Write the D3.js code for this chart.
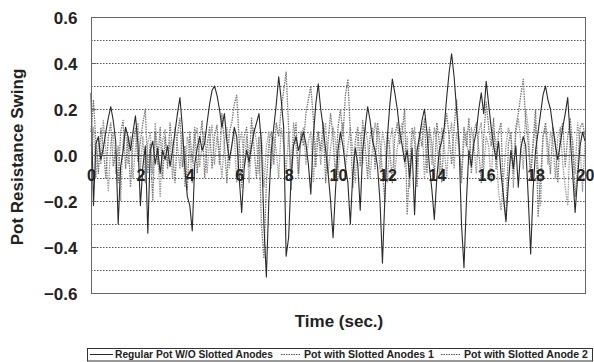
<!DOCTYPE html>
<html>
<head>
<meta charset="utf-8">
<script src="https://cdn.jsdelivr.net/npm/d3@7"></script>
<style>
  body { margin: 0; background: #fff; }
  svg { display: block; font-family: "Liberation Sans", Arial, sans-serif; }
</style>
</head>
<body>
<div id="chart"></div>
<script>
// time axis: 0..20 s, one sample every 0.1 s
const xTicks = [0, 2, 4, 6, 8, 10, 12, 14, 16, 18, 20];
const yTicks = [-0.6, -0.4, -0.2, 0.0, 0.2, 0.4, 0.6];
const gridValues = [-0.5, -0.4, -0.3, -0.2, -0.1, 0.1, 0.2, 0.3, 0.4, 0.5];
const seriesNames = ["Regular Pot W/O Slotted Anodes", "Pot with Slotted Anodes 1", "Pot with Slotted Anode 2"];

const regularPot = [
  0.27, -0.22, 0.05, 0.08, -0.02, 0.03, 0.10, 0.16, 0.21, 0.15,
  0.06, -0.30, -0.05, 0.02, 0.12, 0.08, 0.02, 0.10, 0.17, 0.05,
  -0.22, -0.05, 0.04, -0.34, 0.02, 0.06, -0.04, 0.03, -0.08, 0.02,
  -0.02, 0.04, -0.05, 0.02, 0.10, 0.18, 0.25, 0.12, -0.06, -0.18,
  -0.22, -0.33, -0.04, 0.03, 0.08, 0.02, 0.05, 0.14, 0.22, 0.28,
  0.30, 0.26, 0.20, 0.12, 0.18, 0.06, -0.02, 0.04, 0.12, 0.08,
  -0.10, -0.25, -0.06, 0.02, -0.03, 0.04, 0.10, 0.14, 0.18, 0.05,
  -0.30, -0.53, -0.20, 0.02, 0.12, 0.22, 0.34, 0.24, 0.12, -0.44,
  -0.36, -0.10, 0.04, 0.08, 0.02, 0.06, 0.10, 0.05, -0.04, -0.17,
  0.08, 0.22, 0.31, 0.20, 0.12, 0.02, -0.08, -0.20, -0.36, -0.15,
  0.02, 0.10, 0.04, -0.05, -0.12, -0.30, -0.08, 0.03, -0.04, -0.24,
  0.02, 0.12, 0.21, 0.15, 0.06, 0.02, -0.05, -0.20, -0.47, -0.18,
  0.08, 0.22, 0.33, 0.27, 0.20, 0.10, 0.04, -0.03, 0.02, -0.10,
  0.03, -0.26, 0.02, 0.08, 0.15, 0.20, 0.10, -0.05, -0.15, -0.28,
  -0.10, 0.02, 0.06, 0.12, 0.25, 0.36, 0.44, 0.34, 0.20, 0.05,
  -0.30, -0.49, -0.20, 0.02, -0.05, 0.05, 0.10, 0.20, 0.27, 0.18,
  0.32, 0.22, 0.12, 0.04, -0.02, 0.06, -0.08, -0.18, -0.29, -0.12,
  0.02, -0.06, 0.04, -0.14, 0.03, 0.08, 0.04, -0.18, -0.43, -0.15,
  0.02, 0.10, 0.18, 0.26, 0.30, 0.24, 0.20, 0.12, 0.04, -0.02,
  0.05, 0.12, 0.18, 0.25, 0.08, -0.08, -0.25, -0.10, 0.04, 0.10,
  0.06
];

const slotted1 = [
  0.10, 0.24, 0.05, -0.08, 0.12, 0.03, -0.10, 0.08, 0.14, -0.05,
  0.02, -0.12, 0.10, 0.15, -0.06, 0.08, -0.14, 0.05, 0.12, -0.03,
  0.06, 0.14, 0.20, -0.08, 0.05, -0.20, 0.10, -0.04, 0.12, -0.10,
  0.08, -0.06, 0.14, 0.02, -0.12, 0.09, 0.16, -0.05, 0.04, -0.15,
  0.10, -0.03, 0.12, -0.08, 0.06, 0.15, -0.10, 0.04, 0.12, -0.06,
  0.08, 0.13, -0.04, 0.18, 0.05, -0.12, 0.10, 0.14, 0.22, 0.26,
  0.06, -0.14, 0.08, 0.12, -0.05, 0.16, 0.03, -0.10, 0.08, -0.30,
  -0.45, -0.12, 0.05, 0.10, -0.04, 0.14, 0.08, 0.20, 0.28, 0.36,
  0.12, -0.15, 0.06, 0.14, -0.08, 0.10, 0.04, 0.18, 0.24, 0.30,
  0.16, -0.05, 0.10, 0.02, 0.14, -0.12, 0.06, 0.18, 0.08, -0.10,
  0.12, 0.20, 0.08, 0.26, 0.33, 0.10, -0.14, 0.06, 0.12, -0.05,
  0.15, 0.04, -0.10, 0.08, 0.12, -0.06, 0.14, 0.05, -0.08, -0.20,
  0.10, 0.02, -0.12, 0.08, 0.14, 0.05, 0.10, 0.20, -0.26, -0.05,
  0.12, 0.06, -0.14, 0.10, 0.04, 0.16, -0.08, 0.12, 0.05, -0.10,
  0.14, 0.06, -0.12, 0.10, 0.18, 0.08, -0.04, 0.12, 0.24, 0.06,
  -0.10, 0.12, 0.04, 0.16, -0.08, 0.10, 0.14, 0.02, -0.12, 0.08,
  0.23, 0.12, 0.04, 0.16, -0.06, 0.10, 0.14, -0.20, -0.28, 0.05,
  0.10, -0.08, 0.12, 0.18, 0.26, 0.33, 0.15, 0.05, -0.10, 0.06,
  0.20, -0.27, -0.10, 0.08, 0.14, 0.04, -0.08, 0.12, 0.06, -0.12,
  0.10, 0.14, -0.05, 0.08, 0.16, 0.04, -0.18, -0.06, 0.12, 0.14,
  0.08
];

const slotted2 = [
  0.04, 0.12, -0.10, 0.06, -0.04, 0.15, 0.02, -0.16, 0.05, 0.10,
  -0.08, 0.04, -0.20, 0.06, 0.12, -0.04, 0.08, -0.10, 0.03, 0.14,
  -0.06, 0.08, -0.12, 0.05, 0.10, -0.08, 0.14, 0.02, -0.18, 0.06,
  0.11, -0.04, 0.06, -0.10, 0.12, 0.04, -0.06, 0.10, -0.14, 0.08,
  0.03, -0.12, 0.08, 0.12, -0.05, 0.04, 0.10, -0.08, 0.06, 0.13,
  -0.04, 0.08, 0.02, -0.10, 0.06, 0.12, -0.06, 0.04, 0.10, -0.12,
  0.05, 0.10, -0.05, 0.08, -0.12, 0.03, 0.12, 0.06, -0.08, 0.10,
  -0.14, 0.04, 0.10, -0.06, 0.08, 0.02, -0.10, 0.12, 0.05, -0.08,
  0.10, -0.06, 0.14, 0.04, -0.10, 0.08, 0.12, -0.04, 0.06, 0.10,
  -0.12, 0.05, 0.10, -0.04, 0.08, 0.14, -0.08, 0.03, 0.12, 0.06,
  -0.10, 0.08, 0.14, -0.06, 0.04, 0.12, 0.02, -0.12, 0.08, 0.10,
  -0.04, 0.12, 0.06, -0.10, 0.04, 0.14, 0.08, -0.06, 0.10, 0.04,
  -0.12, 0.06, 0.12, -0.08, 0.03, 0.10, 0.14, -0.05, 0.08, -0.14,
  0.05, 0.12, -0.06, 0.08, 0.14, -0.10, 0.04, 0.10, -0.04, 0.12,
  0.06, -0.08, 0.12, 0.04, -0.10, 0.08, 0.14, -0.06, 0.10, 0.03,
  -0.12, 0.06, 0.10, -0.04, 0.12, 0.05, -0.08, 0.10, 0.14, -0.06,
  0.08, 0.04, -0.12, 0.10, 0.06, -0.16, -0.24, -0.10, 0.04, 0.12,
  0.08, -0.14, 0.10, 0.16, 0.06, -0.06, 0.20, 0.12, -0.08, 0.04,
  0.14, -0.06, -0.22, 0.08, 0.12, -0.04, 0.10, 0.06, -0.10, 0.08,
  0.12, -0.04, -0.14, -0.22, 0.10, 0.06, -0.08, 0.14, 0.04, -0.16,
  0.06
];

const width = 594, height = 362;
const plot = { left: 91, right: 585, top: 17, bottom: 293 };

const svg = d3.select("#chart").append("svg")
    .attr("width", width)
    .attr("height", height);

const x = d3.scaleLinear().domain([0, 20]).range([plot.left, plot.right]);
const y = d3.scaleLinear().domain([-0.6, 0.6]).range([plot.bottom, plot.top]);

// dotted gridlines every 0.1
svg.append("g")
    .selectAll("line")
    .data(gridValues)
    .enter()
    .append("line")
    .attr("x1", plot.left)
    .attr("x2", plot.right)
    .attr("y1", d => Math.round(y(d)) + 0.5)
    .attr("y2", d => Math.round(y(d)) + 0.5)
    .attr("stroke", "#555")
    .attr("stroke-width", 1)
    .attr("stroke-dasharray", "1.5,1.5");

// series
const line = d3.line()
    .x((d, i) => x(i * 0.1))
    .y(d => y(d));

const styles = [
    { data: slotted2, color: "#9a9a9a", dash: "1.5,1", w: 1.3 },
    { data: slotted1, color: "#777", dash: "1.5,1", w: 1.3 },
    { data: regularPot, color: "#2a2a2a", dash: null, w: 1.1 }
];

styles.forEach(s => {
    svg.append("path")
        .datum(s.data)
        .attr("fill", "none")
        .attr("stroke", s.color)
        .attr("stroke-width", s.w)
        .attr("stroke-dasharray", s.dash)
        .attr("stroke-linejoin", "round")
        .attr("d", line);
});

// zero line
svg.append("line")
    .attr("x1", plot.left)
    .attr("x2", plot.right)
    .attr("y1", Math.round(y(0)) + 0.5)
    .attr("y2", Math.round(y(0)) + 0.5)
    .attr("stroke", "#555")
    .attr("stroke-width", 1);

// plot frame
svg.append("rect")
    .attr("x", plot.left + 0.5)
    .attr("y", plot.top + 0.5)
    .attr("width", plot.right - plot.left)
    .attr("height", plot.bottom - plot.top)
    .attr("fill", "none")
    .attr("stroke", "#666")
    .attr("stroke-width", 1);

// y axis (ticks inside, labels left)
const yAxis = svg.append("g")
    .attr("transform", `translate(${plot.left + 0.5},0)`)
    .call(d3.axisRight(y).tickValues(yTicks).tickSize(5).tickFormat(d3.format(".1f")));
yAxis.select(".domain").remove();
yAxis.selectAll("line").attr("stroke", "#666");
yAxis.selectAll("text")
    .attr("x", -14)
    .attr("dy", "0.36em")
    .attr("text-anchor", "end")
    .attr("fill", "#222")
    .style("font-size", "17px")
    .style("font-weight", "bold")
    .style("font-family", "'Liberation Sans', Arial, sans-serif");

// x axis labels sit just below the zero line
const xAxis = svg.append("g")
    .attr("transform", `translate(0,${y(0)})`)
    .call(d3.axisBottom(x).tickValues(xTicks).tickSize(0).tickFormat(d3.format("d")));
xAxis.select(".domain").remove();
xAxis.selectAll("text")
    .attr("y", 20)
    .attr("dy", "0.36em")
    .attr("fill", "#222")
    .style("font-size", "16px")
    .style("font-weight", "bold")
    .style("font-family", "'Liberation Sans', Arial, sans-serif");

// axis titles
svg.append("text")
    .attr("transform", `translate(23,157) rotate(-90)`)
    .attr("text-anchor", "middle")
    .attr("fill", "#222")
    .style("font-size", "17px")
    .style("font-weight", "bold")
    .text("Pot Resistance Swing");

svg.append("text")
    .attr("x", 339)
    .attr("y", 327)
    .attr("text-anchor", "middle")
    .attr("fill", "#222")
    .style("font-size", "17px")
    .style("font-weight", "bold")
    .text("Time (sec.)");

// legend
const legend = svg.append("g");
legend.append("rect")
    .attr("x", 87.5).attr("y", 348.5)
    .attr("width", 505).attr("height", 12.5)
    .attr("fill", "#fff")
    .attr("stroke", "#333")
    .attr("stroke-width", 1);

const legendItems = [
    { name: seriesNames[0], x1: 90, x2: 113, tx: 115, tw: 158, dash: null, color: "#2a2a2a" },
    { name: seriesNames[1], x1: 281, x2: 301, tx: 304, tw: 130, dash: "1.5,1", color: "#555" },
    { name: seriesNames[2], x1: 441, x2: 461, tx: 464, tw: 124, dash: "1.5,1", color: "#555" }
];

legendItems.forEach(it => {
    legend.append("line")
        .attr("x1", it.x1).attr("x2", it.x2)
        .attr("y1", 354.5).attr("y2", 354.5)
        .attr("stroke", it.color)
        .attr("stroke-width", 1)
        .attr("stroke-dasharray", it.dash);
    legend.append("text")
        .attr("x", it.tx)
        .attr("y", 358)
        .attr("fill", "#222")
        .attr("textLength", it.tw)
        .attr("lengthAdjust", "spacingAndGlyphs")
        .style("font-size", "11px")
        .style("font-weight", "bold")
        .style("font-family", "'Liberation Sans Narrow', 'Liberation Sans', Arial, sans-serif")
        .text(it.name);
});
</script>
</body>
</html>
